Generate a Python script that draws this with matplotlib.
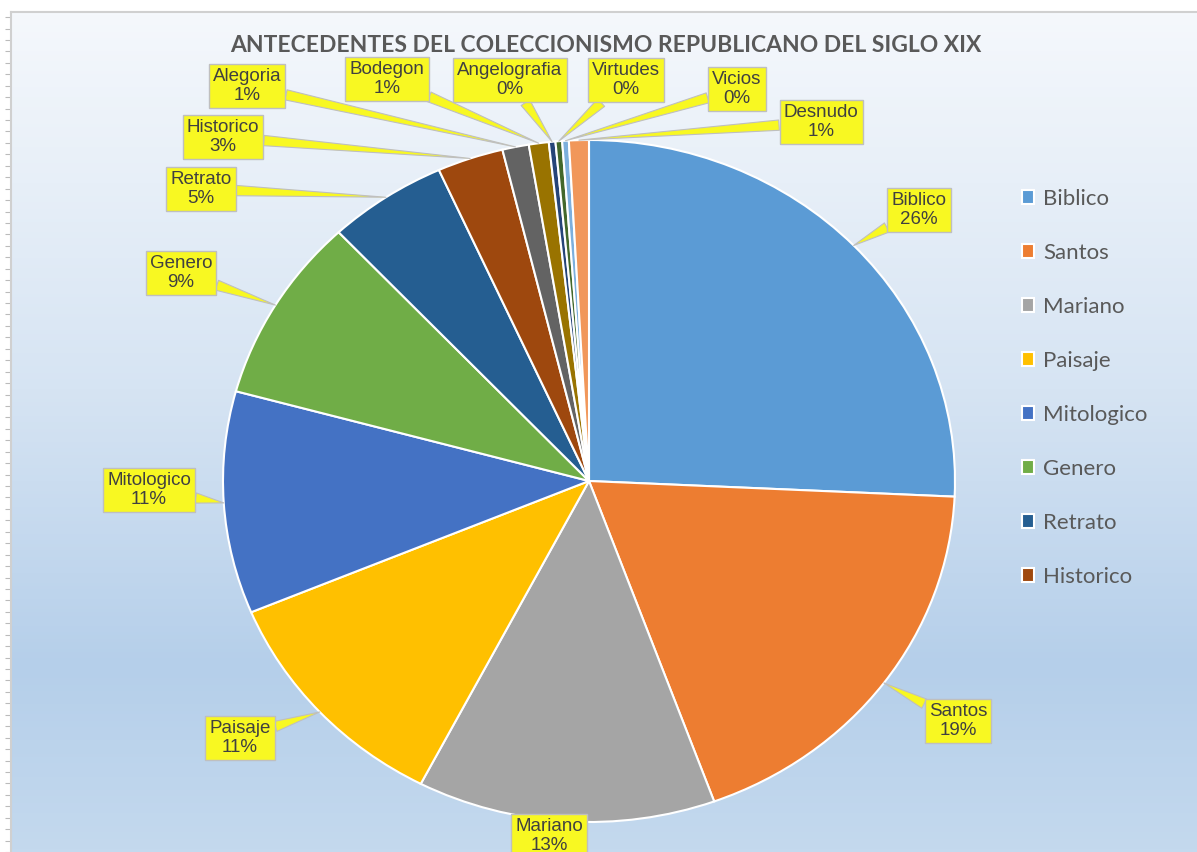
import numpy as np
import matplotlib.pyplot as plt
from matplotlib.colors import LinearSegmentedColormap

categorias = ["Biblico", "Santos", "Mariano", "Paisaje", "Mitologico", "Genero",
              "Retrato", "Historico", "Alegoria", "Bodegon", "Angelografia",
              "Virtudes", "Vicios", "Desnudo"]
obras = [88, 64, 45, 38, 36, 30, 18, 10, 4, 3, 1, 1, 1, 3]
colores = ["#5B9BD5", "#ED7D31", "#A5A5A5", "#FFC000", "#4472C4", "#70AD47",
           "#255E91", "#9E480E", "#636363", "#997300", "#264478", "#43682B",
           "#7CAFDD", "#F1975A"]
titulo = "ANTECEDENTES DEL COLECCIONISMO REPUBLICANO DEL SIGLO XIX"
n_leyenda = 8  # la leyenda solo muestra las 8 primeras

# centro de cada etiqueta, en px de la imagen (y hacia abajo)
pos_etiquetas = [(919, 210), (958, 721), (549, 836), (240, 738), (149, 490),
                 (181, 273), (201, 189), (223, 137), (247, 86), (387, 79),
                 (510, 80), (626, 80), (737, 89), (821, 122)]

W, H = 1197, 852
cx, cy, rx, ry = 589, 481, 366, 341
amarillo = "#F8F822"

fig = plt.figure(figsize=(W / 100, H / 100), dpi=100)

# fondo degradado
fondo = fig.add_axes([11 / W, 0, 1 - 11 / W, 1 - 12 / H])
grad = LinearSegmentedColormap.from_list(
    "fondo", [(0, "#F5F8FC"), (0.45, "#D6E4F3"), (0.78, "#B5CFEA"), (1, "#C4D9EE")])
fondo.imshow(np.linspace(0, 1, 256).reshape(-1, 1), cmap=grad, aspect="auto",
             extent=[0, 1, 0, 1])
for lado in ["right", "bottom"]:
    fondo.spines[lado].set_visible(False)
for lado in ["left", "top"]:
    fondo.spines[lado].set_color("#D0D0D0")
    fondo.spines[lado].set_linewidth(1.5)
fondo.set_xticks([])
fondo.set_yticks(np.arange(0.0, 1.0, 11.6 / H))
fondo.set_yticklabels([])
fondo.tick_params(axis="y", length=4, color="#BBBBBB", width=0.8)

# pastel
ax = fig.add_axes([(cx - rx) / W, (H - cy - ry) / H, 2 * rx / W, 2 * ry / H])
cunas, _ = ax.pie(obras, colors=colores, startangle=90, counterclock=False,
                  wedgeprops=dict(edgecolor="white", linewidth=1.5))
ax.set_aspect("auto")
ax.set_xlim(-1, 1)
ax.set_ylim(-1, 1)
ax.axis("off")

total = sum(obras)
ang = 90
for i, (cat, v) in enumerate(zip(categorias, obras)):
    theta = np.deg2rad(ang - v / total * 180)
    ang -= v / total * 360
    punta = (np.cos(theta), np.sin(theta))
    px, py = pos_etiquetas[i]
    caja = ((px - cx) / rx, (cy - py) / ry)
    dist = np.hypot((caja[0] - punta[0]) * rx, (caja[1] - punta[1]) * ry)
    flecha = None
    if dist > 40:
        flecha = dict(arrowstyle="wedge,tail_width=0.55", fc=amarillo,
                      ec="#BFBFBF", lw=0.8, shrinkA=0, shrinkB=0)
    ax.annotate(f"{cat}\n{round(100 * v / total)}%", xy=punta, xytext=caja,
                ha="center", va="center", fontsize=13.5, family="Liberation Sans",
                color="#404040", linespacing=1.15, annotation_clip=False,
                bbox=dict(boxstyle="square,pad=0.22", fc=amarillo, ec="#BFBFBF", lw=1),
                arrowprops=flecha)

fig.text(606 / W, 1 - 45 / H, titulo, ha="center", va="center", fontsize=16.5,
         weight="bold", color="#595959", family="Lato")

ax.legend(cunas[:n_leyenda], categorias[:n_leyenda], loc="upper left",
          bbox_to_anchor=(1022 / W, 1 - 189 / H), bbox_transform=fig.transFigure,
          frameon=False, prop=dict(family="Lato", size=16), labelcolor="#595959",
          handlelength=0.55, handleheight=0.55, handletextpad=0.4,
          labelspacing=1.53, borderaxespad=0, borderpad=0)

plt.savefig("out.png", dpi=100)
